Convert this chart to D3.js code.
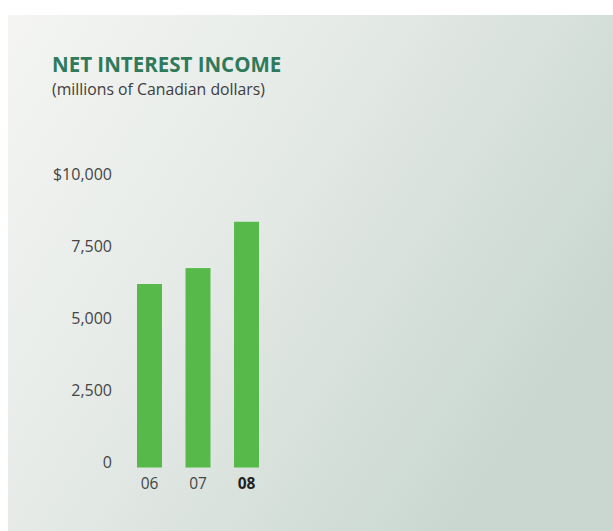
<!DOCTYPE html>
<html>
<head>
<meta charset="utf-8">
<script src="https://cdn.jsdelivr.net/npm/d3@7"></script>
<style>
  html, body { margin: 0; padding: 0; background: #ffffff; }
  svg { display: block; }
</style>
</head>
<body>
<svg id="chart" width="613" height="531"></svg>
<script>
const categories = ["06", "07", "08"];
const values = [6371, 6924, 8532];
const tickValues = [0, 2500, 5000, 7500, 10000];
const tickLabels = ["0", "2,500", "5,000", "7,500", "$10,000"];
const title = "NET INTEREST INCOME";
const subtitle = "(millions of Canadian dollars)";

const svg = d3.select("#chart");
const defs = svg.append("defs");
const grad = defs.append("linearGradient")
  .attr("id", "bg").attr("x1", "0").attr("y1", "0").attr("x2", "1").attr("y2", "0.55");
grad.append("stop").attr("offset", "0").attr("stop-color", "#f4f5f3");
grad.append("stop").attr("offset", "0.45").attr("stop-color", "#e5eae7");
grad.append("stop").attr("offset", "1").attr("stop-color", "#c9d7d0");

svg.append("rect").attr("x", 8).attr("y", 15).attr("width", 605).attr("height", 516)
  .attr("fill", "url(#bg)");

const font = "'Open Sans', sans-serif";

svg.append("text").attr("x", 52).attr("y", 72)
  .attr("font-family", font).attr("font-weight", 700).attr("font-size", 20.5)
  .attr("fill", "#2e7a5b").text(title);
svg.append("text").attr("x", 52).attr("y", 95)
  .attr("font-family", font).attr("font-weight", 400).attr("font-size", 15.8)
  .attr("fill", "#3d3d3d").text(subtitle);

const y = d3.scaleLinear().domain([0, 10000]).range([467.5, 179.5]);
const x = d3.scaleBand().domain(categories).range([137, 259]).paddingInner(0.485).paddingOuter(0);

svg.append("g").selectAll("rect").data(values).join("rect")
  .attr("x", (d, i) => x(categories[i]))
  .attr("width", x.bandwidth())
  .attr("y", d => y(d))
  .attr("height", d => y(0) - y(d))
  .attr("fill", "#57b94a");

const yAxis = d3.axisLeft(y).tickValues(tickValues)
  .tickFormat((d, i) => tickLabels[i]).tickSize(0).tickPadding(0);
const gy = svg.append("g").attr("transform", "translate(112,0)").call(yAxis);
gy.select(".domain").remove();
gy.selectAll("text").attr("font-family", font).attr("font-size", 16).attr("font-weight", 400)
  .attr("fill", "#454545").attr("dy", 0);

const xAxis = d3.axisBottom(x).tickSize(0).tickPadding(0);
const gx = svg.append("g").attr("transform", "translate(0,489)").call(xAxis);
gx.select(".domain").remove();
gx.selectAll("text").attr("font-family", font).attr("font-size", 15.5)
  .attr("dy", 0)
  .attr("font-weight", (d, i) => i === categories.length - 1 ? 700 : 400)
  .attr("fill", (d, i) => i === categories.length - 1 ? "#222" : "#454545");
</script>
</body>
</html>
